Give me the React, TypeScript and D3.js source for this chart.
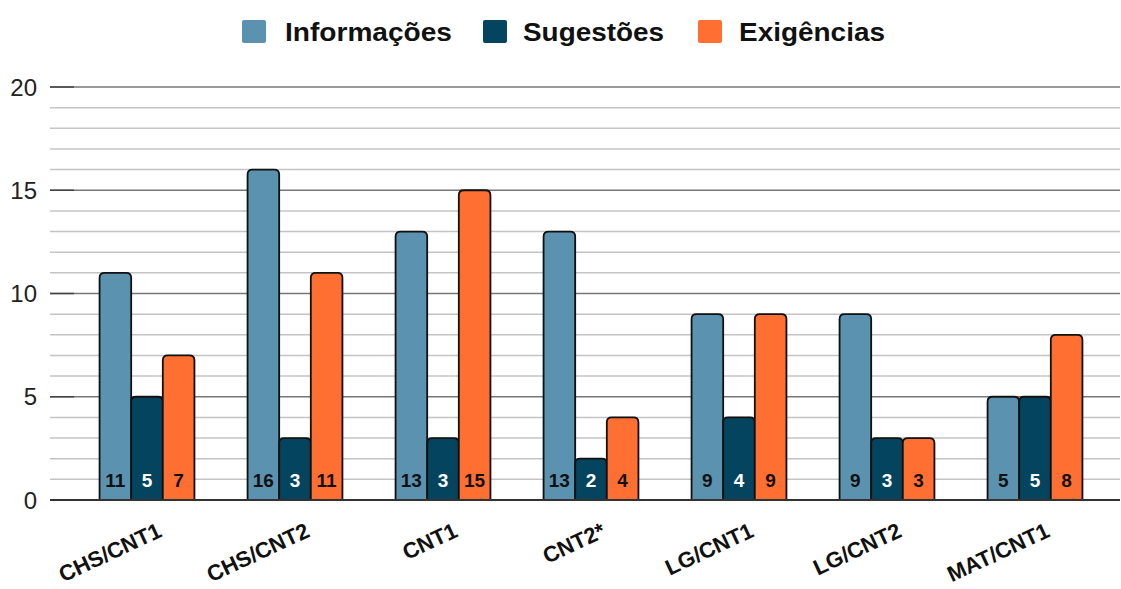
import { useRef, useEffect } from 'react'
import * as d3 from 'd3'

const categories = ['CHS/CNT1', 'CHS/CNT2', 'CNT1', 'CNT2*', 'LG/CNT1', 'LG/CNT2', 'MAT/CNT1']
const seriesNames = ['Informações', 'Sugestões', 'Exigências']
const informacoes = [11, 16, 13, 13, 9, 9, 5]
const sugestoes = [5, 3, 3, 2, 4, 3, 5]
const exigencias = [7, 11, 15, 4, 9, 3, 8]
const yTicks = [0, 5, 10, 15, 20]

const colors = ['#5a92b0', '#05445f', '#ff6f31']
const labelColors = ['#111', '#fff', '#111']

const width = 1121
const height = 589
const margin = { top: 87, right: 12, bottom: 89, left: 73 }
const font = 'Arial, "Liberation Sans", sans-serif'

function topRounded(x: number, y: number, w: number, h: number, r: number) {
  const rr = Math.min(r, h, w / 2)
  return `M${x},${y + h}V${y + rr}Q${x},${y} ${x + rr},${y}H${x + w - rr}Q${x + w},${y} ${x + w},${y + rr}V${y + h}Z`
}

export default function App() {
  const ref = useRef<SVGSVGElement>(null)

  useEffect(() => {
    const svg = d3.select(ref.current)
    svg.selectAll('*').remove()

    const values = [informacoes, sugestoes, exigencias]
    const data = categories.map((c, i) => ({ name: c, vals: values.map((v) => v[i]) }))

    const x0 = d3.scaleBand().domain(categories).range([margin.left, 1109]).paddingInner(0).paddingOuter(0)
    const x1 = d3.scaleBand().domain(seriesNames).range([0, x0.bandwidth()]).paddingInner(0.0).paddingOuter(0.84)
    const y = d3.scaleLinear().domain([0, 20]).range([height - margin.bottom, margin.top])

    // grid
    const grid = svg.append('g')
    d3.range(0, 21).forEach((v) => {
      const major = v % 5 === 0
      grid
        .append('line')
        .attr('x1', 50)
        .attr('x2', 1120)
        .attr('y1', y(v))
        .attr('y2', y(v))
        .attr('stroke', major ? '#777' : '#c4c4c4')
        .attr('stroke-width', 1.5)
      if (major) {
        grid
          .append('line')
          .attr('x1', 50)
          .attr('x2', 74)
          .attr('y1', y(v))
          .attr('y2', y(v))
          .attr('stroke', '#444')
          .attr('stroke-width', 1.5)
      }
    })

    // y labels
    svg
      .append('g')
      .selectAll('text')
      .data(yTicks)
      .enter()
      .append('text')
      .attr('x', 37)
      .attr('y', (d) => y(d) + 8.5)
      .attr('text-anchor', 'end')
      .attr('font-family', font)
      .attr('font-size', 24)
      .attr('fill', '#222')
      .text((d) => d)

    // bars
    const groups = svg
      .append('g')
      .selectAll('g')
      .data(data)
      .enter()
      .append('g')
      .attr('transform', (d) => `translate(${x0(d.name)},0)`)

    groups.each(function (d) {
      const g = d3.select(this)
      d.vals.forEach((v, k) => {
        const bx = x1(seriesNames[k])!
        const bw = x1.bandwidth()
        g.append('path')
          .attr('d', topRounded(bx, y(v), bw, y(0) - y(v), 5))
          .attr('fill', colors[k])
          .attr('stroke', '#111')
          .attr('stroke-width', 1.8)
        g.append('text')
          .attr('x', bx + bw / 2)
          .attr('y', y(0) - 13)
          .attr('text-anchor', 'middle')
          .attr('font-family', font)
          .attr('font-weight', 'bold')
          .attr('font-size', 19)
          .attr('fill', labelColors[k])
          .text(v)
      })
    })

    // baseline
    svg
      .append('line')
      .attr('x1', 50)
      .attr('x2', 1120)
      .attr('y1', y(0))
      .attr('y2', y(0))
      .attr('stroke', '#333')
      .attr('stroke-width', 1.8)

    // x labels
    svg
      .append('g')
      .selectAll('text')
      .data(categories)
      .enter()
      .append('text')
      .attr('transform', (d) => `translate(${x0(d)! + x0.bandwidth() / 2 + 16},${y(0) + 36}) rotate(-25)`)
      .attr('text-anchor', 'end')
      .attr('font-family', font)
      .attr('font-weight', 'bold')
      .attr('font-size', 22)
      .attr('fill', '#111')
      .text((d) => d)

    // legend
    const legendX = [242, 483, 698]
    const legendTextX = [285, 523, 739]
    const legendW = [167, 141, 146]
    const legend = svg.append('g')
    seriesNames.forEach((s, i) => {
      legend
        .append('rect')
        .attr('x', legendX[i])
        .attr('y', 20)
        .attr('width', 24)
        .attr('height', 23)
        .attr('rx', 2)
        .attr('fill', colors[i])
      legend
        .append('text')
        .attr('x', legendTextX[i])
        .attr('y', 41)
        .attr('font-family', font)
        .attr('font-weight', 'bold')
        .attr('font-size', 25)
        .attr('textLength', legendW[i])
        .attr('lengthAdjust', 'spacingAndGlyphs')
        .attr('fill', '#111')
        .text(s)
    })
  }, [])

  return (
    <div style={{ position: 'absolute', left: 0, top: 0 }}>
      <svg ref={ref} width={width} height={height} style={{ display: 'block', background: '#fff' }} />
    </div>
  )
}
